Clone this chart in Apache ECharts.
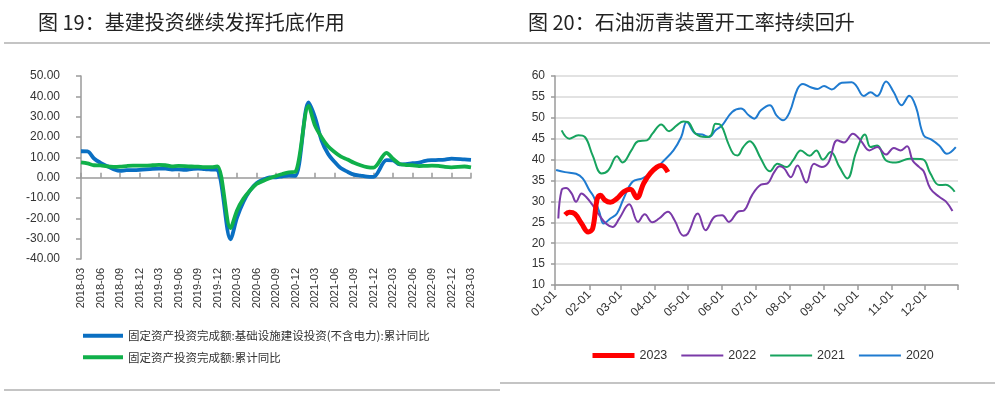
<!DOCTYPE html>
<html lang="zh">
<head>
<meta charset="UTF-8">
<title>基建投资 / 石油沥青开工率</title>
<style>
  html, body { margin: 0; padding: 0; background: #fff; }
  #card { width: 1000px; height: 399px; }
</style>
</head>
<body>
<div id="card"></div>
<script src="https://cdn.jsdelivr.net/npm/echarts@6/dist/echarts.min.js"></script>
<script>
// ---- 图19 数据：月度累计同比（1月无数据）----
var months = [];
for (var y = 2018; y <= 2023; y++) {
  for (var m = 1; m <= 12; m++) {
    if ((y === 2018 && m < 3) || (y === 2023 && m > 3)) continue;
    months.push(y + '-' + (m < 10 ? '0' + m : m));
  }
}
var infraYoY = [
  13.0, 12.9, 9.4, 7.3, 5.7, 4.2, 3.3, 3.7, 3.7, 3.8,
  null, 4.3, 4.4, 4.4, 4.0, 4.1, 3.8, 4.2, 4.5, 4.2, 4.0, 3.8,
  null, -30.3, -19.7, -11.8, -6.3, -2.7, -1.0, 0.1, 0.2, 0.7, 1.0, 0.9,
  null, 37.0, 29.7, 18.4, 11.8, 7.8, 4.6, 2.9, 1.5, 1.0, 0.5, 0.4,
  null, 8.6, 8.5, 6.5, 6.7, 7.1, 7.4, 8.3, 8.6, 8.7, 8.9, 9.4,
  null, 9.0, 8.8
];
var faiYoY = [
  7.5, 7.0, 6.1, 6.0, 5.5, 5.3, 5.4, 5.7, 5.9, 5.9,
  null, 6.1, 6.3, 6.1, 5.6, 5.8, 5.7, 5.5, 5.4, 5.2, 5.2, 5.6,
  null, -24.8, -16.1, -10.3, -6.3, -3.1, -1.6, -0.3, 0.8, 1.8, 2.6, 2.9,
  null, 35.3, 25.6, 19.9, 15.4, 12.6, 10.3, 8.9, 7.3, 6.1, 5.2, 4.9,
  null, 12.2, 9.3, 6.8, 6.2, 6.1, 5.7, 5.8, 5.9, 5.8, 5.3, 5.1,
  null, 5.5, 5.1
];
var leftNames = ['固定资产投资完成额:基础设施建设投资(不含电力):累计同比', '固定资产投资完成额:累计同比'];

// ---- 图20 数据：石油沥青装置开工率（周度）----
var monthDays = [31, 28, 31, 30, 31, 30, 31, 31, 30, 31, 30, 31];
var days = [];
for (var i = 0; i < 12; i++) {
  for (var d = 1; d <= monthDays[i]; d++) {
    days.push((i < 9 ? '0' : '') + (i + 1) + '-' + (d < 10 ? '0' + d : d));
  }
}
var d2023 = ['01-10','01-14','01-19','01-25','01-31','02-04','02-08','02-11','02-15','02-20','02-26','03-04','03-10','03-16','03-22','03-28','04-03','04-07','04-13'];
var v2023 = [26.8, 27.4, 27.0, 24.7, 22.7, 23.5, 30.5, 31.5, 30.3, 29.8, 30.7, 32.3, 32.9, 30.9, 34.3, 36.7, 38.2, 38.6, 37.0];

var d2022 = ['01-04','01-07','01-11','01-16','01-20','01-25','01-29','02-04','02-10','02-16','02-22','02-28','03-09','03-17','03-23','03-30','04-05','04-13','04-19','04-27','05-01','05-10','05-17','05-25','06-01','06-07','06-15','06-21','06-28','07-06','07-12','07-18','07-23','07-27','08-02','08-08','08-16','08-23','08-30','09-05','09-13','09-19','09-27','10-04','10-12','10-19','10-27','11-03','11-09','11-15','11-20','11-26','11-30','12-06','12-14','12-20','12-26'];
var v2022 = [25.9, 32.7, 33.2, 31.9, 29.9, 31.9, 31.1, 29.1, 26.7, 24.7, 23.9, 25.9, 29.3, 25.1, 26.9, 25.0, 25.9, 27.5, 25.5, 21.8, 22.3, 27.1, 23.1, 26.3, 26.7, 25.1, 27.5, 27.9, 31.5, 34.0, 34.3, 37.0, 38.4, 37.9, 35.8, 38.6, 34.5, 39.0, 38.2, 39.3, 44.6, 44.1, 46.2, 44.6, 42.2, 43.0, 41.2, 42.8, 42.2, 43.2, 39.8, 38.2, 37.2, 33.1, 31.1, 30.0, 27.7];

var d2021 = ['01-07','01-14','01-22','01-28','02-04','02-12','02-18','02-26','03-03','03-11','03-17','03-25','03-30','04-07','04-14','04-21','04-27','05-01','05-08','05-17','05-22','05-26','05-31','06-06','06-11','06-15','06-20','06-26','06-30','07-06','07-14','07-21','07-29','08-04','08-11','08-19','08-25','08-31','09-07','09-15','09-22','09-30','10-08','10-13','10-19','10-27','11-05','11-17','11-29','12-06','12-14','12-20','12-28'];
var v2021 = [47.0, 45.0, 45.8, 45.4, 41.0, 36.7, 37.4, 40.8, 39.3, 42.2, 44.4, 44.6, 46.2, 48.4, 46.8, 48.2, 49.1, 49.0, 46.2, 45.4, 45.8, 48.6, 48.2, 44.2, 41.4, 41.0, 43.0, 44.4, 43.4, 40.2, 37.2, 39.0, 38.2, 39.8, 42.2, 40.9, 42.2, 40.0, 41.8, 38.2, 35.5, 41.8, 46.0, 43.0, 43.4, 39.8, 39.3, 40.2, 40.1, 36.7, 33.9, 34.0, 32.3];

var d2020 = ['01-02','01-10','01-20','01-26','02-01','02-05','02-10','02-14','02-20','02-26','03-04','03-12','03-21','03-30','04-08','04-18','04-25','04-30','05-08','05-14','05-20','05-26','06-01','06-10','06-18','06-25','06-30','07-06','07-14','07-20','07-26','08-01','08-08','08-13','08-20','08-26','09-01','09-08','09-17','09-26','09-30','10-07','10-13','10-19','10-27','11-03','11-10','11-17','11-23','11-30','12-07','12-14','12-21','12-29'];
var v2020 = [37.5, 37.0, 36.6, 35.5, 32.7, 31.1, 27.5, 24.7, 25.9, 27.1, 30.7, 34.7, 35.5, 37.0, 39.4, 42.2, 45.4, 49.0, 46.2, 46.0, 45.4, 47.0, 48.2, 51.4, 52.2, 50.6, 49.8, 51.8, 53.0, 50.6, 49.4, 51.4, 56.9, 58.1, 57.3, 56.9, 57.6, 56.8, 58.4, 58.5, 57.7, 55.2, 56.1, 55.2, 58.7, 56.1, 53.0, 55.3, 52.6, 45.8, 44.8, 43.4, 41.4, 43.0];

function pairs(ds, vs) {
  return ds.map(function (d, i) { return [d, vs[i]]; });
}

var axisGray = '#9a9a9a';
var font = '"Noto Sans CJK SC", "Noto Sans", sans-serif';

var option = {
  backgroundColor: '#fff',
  animation: false,
  textStyle: { fontFamily: 'Arial, "Liberation Sans", sans-serif' },
  title: [
    { text: '图 19：基建投资继续发挥托底作用', left: 33, top: 7,
      textStyle: { fontFamily: font, fontSize: 20, fontWeight: 'normal', color: '#222' } },
    { text: '图 20：石油沥青装置开工率持续回升', left: 523, top: 7,
      textStyle: { fontFamily: font, fontSize: 20, fontWeight: 'normal', color: '#222' } }
  ],
  graphic: [
    { type: 'line', shape: { x1: 4, y1: 43, x2: 990, y2: 43 }, style: { stroke: '#b0b0b0', lineWidth: 1.5 } },
    { type: 'line', shape: { x1: 4, y1: 390, x2: 500, y2: 390 }, style: { stroke: '#b0b0b0', lineWidth: 1.5 } },
    { type: 'line', shape: { x1: 500, y1: 383, x2: 995, y2: 383 }, style: { stroke: '#b0b0b0', lineWidth: 1.5 } }
  ],
  legend: [
    {
      data: leftNames,
      orient: 'vertical',
      left: 76, top: 325,
      itemWidth: 40, itemHeight: 12, itemGap: 10,
      itemStyle: { opacity: 0 },
      lineStyle: { width: 4 },
      textStyle: { fontFamily: font, fontSize: 11.5, color: '#333' }
    },
    {
      data: [
        { name: '2023', lineStyle: { width: 5 } },
        { name: '2022', lineStyle: { width: 2 } },
        { name: '2021', lineStyle: { width: 2 } },
        { name: '2020', lineStyle: { width: 2 } }
      ],
      left: 585, top: 344,
      itemWidth: 42, itemHeight: 14, itemGap: 13,
      itemStyle: { opacity: 0 },
      textStyle: { fontSize: 12.5, color: '#333' }
    }
  ],
  grid: [
    { left: 81, right: 529, top: 76, bottom: 140 },
    { left: 555, right: 42, top: 76, bottom: 114 }
  ],
  xAxis: [
    { // 图19 标签（底部）
      gridIndex: 0, type: 'category', data: months, boundaryGap: false,
      axisLine: { show: false, onZero: false }, axisTick: { show: false },
      axisLabel: { interval: 2, rotate: 90, margin: 9, fontSize: 11, color: '#333' }
    },
    { // 图19 零轴
      gridIndex: 0, type: 'category', data: months, boundaryGap: false,
      axisLine: { onZero: true, lineStyle: { color: axisGray, width: 1.5 } },
      axisTick: { interval: 2, length: 5, lineStyle: { color: axisGray, width: 1.5 } },
      axisLabel: { show: false }
    },
    { // 图20
      gridIndex: 1, type: 'category', data: days, boundaryGap: false,
      axisLine: { lineStyle: { color: axisGray, width: 1.5 } },
      axisTick: {
        length: 5, lineStyle: { color: axisGray, width: 1.5 },
        interval: function (idx, v) { return v.slice(3) === '01' || idx === days.length - 1; }
      },
      axisLabel: {
        rotate: 45, margin: 8, fontSize: 12, color: '#333',
        interval: function (idx, v) { return v.slice(3) === '01'; }
      }
    }
  ],
  yAxis: [
    {
      gridIndex: 0, type: 'value', min: -40, max: 50, interval: 10,
      axisLine: { show: true, lineStyle: { color: axisGray, width: 1.5 } },
      axisTick: { show: true, length: 5, lineStyle: { color: axisGray, width: 1.5 } },
      splitLine: { show: false },
      axisLabel: { fontSize: 12, color: '#333', margin: 21,
        formatter: function (v) { return v.toFixed(2); } }
    },
    {
      gridIndex: 1, type: 'value', min: 10, max: 60, interval: 5,
      axisLine: { show: true, lineStyle: { color: axisGray, width: 1.5 } },
      axisTick: { show: true, length: 4, lineStyle: { color: axisGray, width: 1.5 } },
      splitLine: { lineStyle: { color: '#d9d9d9', width: 1.5 } },
      axisLabel: { fontSize: 12, color: '#333', margin: 10 }
    }
  ],
  series: [
    {
      name: leftNames[0], type: 'line', xAxisIndex: 0, yAxisIndex: 0,
      data: infraYoY, connectNulls: true, smooth: 0.3, symbol: 'none',
      lineStyle: { color: '#0a6fc2', width: 3.8 }, itemStyle: { color: '#0a6fc2' }
    },
    {
      name: leftNames[1], type: 'line', xAxisIndex: 0, yAxisIndex: 0,
      data: faiYoY, connectNulls: true, smooth: 0.3, symbol: 'none',
      lineStyle: { color: '#10b04a', width: 3.8 }, itemStyle: { color: '#10b04a' }
    },
    {
      name: '2020', type: 'line', xAxisIndex: 2, yAxisIndex: 1,
      data: pairs(d2020, v2020), smooth: 0.4, symbol: 'none',
      lineStyle: { color: '#1f7bd0', width: 2 }, itemStyle: { color: '#1f7bd0' }
    },
    {
      name: '2021', type: 'line', xAxisIndex: 2, yAxisIndex: 1,
      data: pairs(d2021, v2021), smooth: 0.4, symbol: 'none',
      lineStyle: { color: '#17a35e', width: 2 }, itemStyle: { color: '#17a35e' }
    },
    {
      name: '2022', type: 'line', xAxisIndex: 2, yAxisIndex: 1,
      data: pairs(d2022, v2022), smooth: 0.4, symbol: 'none',
      lineStyle: { color: '#7a3aa8', width: 2 }, itemStyle: { color: '#7a3aa8' }
    },
    {
      name: '2023', type: 'line', xAxisIndex: 2, yAxisIndex: 1,
      data: pairs(d2023, v2023), smooth: 0.4, symbol: 'none',
      lineStyle: { color: '#ff0000', width: 5 }, itemStyle: { color: '#ff0000' }
    }
  ]
};

var myChart = echarts.init(document.getElementById('card'));
myChart.setOption(option);
</script>
</body>
</html>
